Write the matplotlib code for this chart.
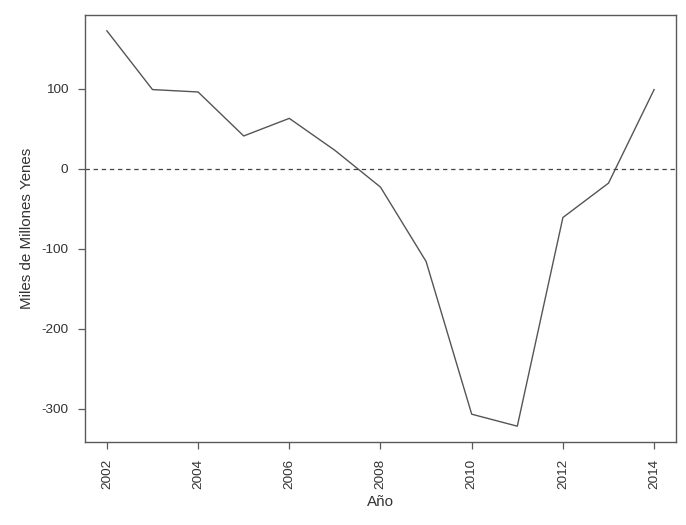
import matplotlib
matplotlib.use("Agg")
import matplotlib.pyplot as plt

# data
years = [2002, 2003, 2004, 2005, 2006, 2007, 2008, 2009, 2010, 2011, 2012, 2013, 2014]
values = [172.5, 99, 96, 41, 63, 23, -23, -116, -307, -322, -61, -18, 99]

xticks = [2002, 2004, 2006, 2008, 2010, 2012, 2014]
yticks = [-300, -200, -100, 0, 100]

LINE = "#555555"
AXIS = "#5a5a5a"
TEXT = "#333333"

plt.rcParams["font.family"] = ["Liberation Sans", "DejaVu Sans"]

fig = plt.figure(figsize=(6.86, 5.25), dpi=100, facecolor="white")
ax = fig.add_axes([85 / 686, 1 - 442 / 525, (676 - 85) / 686, (442 - 15) / 525])

ax.plot(years, values, color=LINE, linewidth=1.0)
ax.axhline(0, color="#444444", linewidth=0.9, linestyle=(0, (3.5, 3)))

# R-style 4% padding
span_x = max(years) - min(years)
span_y = max(values) - min(values)
ax.set_xlim(min(years) - 0.04 * span_x, max(years) + 0.04 * span_x)
ax.set_ylim(min(values) - 0.04 * span_y, max(values) + 0.04 * span_y)

ax.set_xticks(xticks)
ax.set_xticklabels([str(x) for x in xticks], rotation=90)
ax.set_yticks(yticks)
ax.set_yticklabels([str(y) for y in yticks])

ax.tick_params(axis="both", direction="out", length=5.2, width=0.9,
               colors=AXIS, labelcolor=TEXT, labelsize=9.7, pad=7)
for sp in ax.spines.values():
    sp.set_color(AXIS)
    sp.set_linewidth(1.0)

ax.set_xlabel("Año", fontsize=10.9, color=TEXT, labelpad=4)
ax.set_ylabel("Miles de Millones Yenes", fontsize=10.9, color=TEXT, labelpad=5)

fig.savefig("out.png", dpi=100, facecolor="white")
